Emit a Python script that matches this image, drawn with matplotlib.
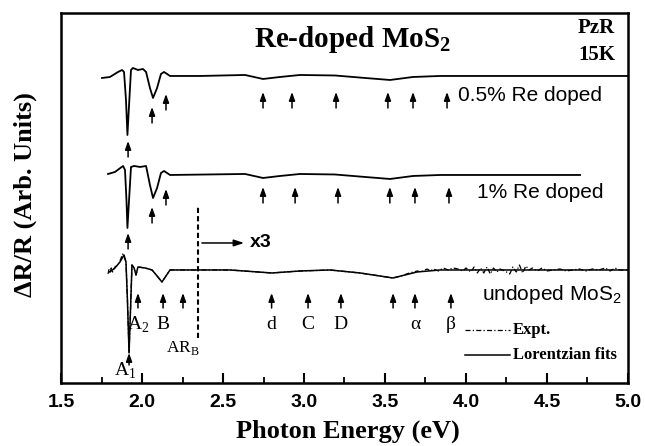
import matplotlib
matplotlib.use('AGG')
import numpy as np
import matplotlib.pyplot as plt

plt.rcParams['mathtext.fontset'] = 'custom'
plt.rcParams['mathtext.rm'] = 'Liberation Serif'
plt.rcParams['mathtext.bf'] = 'Liberation Serif:bold'
plt.rcParams['mathtext.sf'] = 'Liberation Sans'

# spectra: photon energy (eV) and PzR signal (arb. units, baseline 0)
top_E = [1.753, 1.802, 1.852, 1.877, 1.889, 1.901, 1.910, 1.920, 1.932, 1.944, 1.975, 2.006,
         2.025, 2.049, 2.068, 2.093, 2.117, 2.136, 2.173, 2.358, 2.636, 2.747, 2.852, 2.975,
         3.191, 3.377, 3.531, 3.673, 3.840, 5.0]
top_V = [-2, -1, 4, 6, 4, -24, -59, -29, 6, 8, 6, 7,
         4, -12, -22, -12, 2, 4, 0, 0, 1, -3, -1, 1,
         0.5, -2, -4, -1, 0, 0]

mid_E = [1.790, 1.833, 1.883, 1.895, 1.904, 1.910, 1.920, 1.932, 1.951, 1.988, 2.025, 2.049,
         2.068, 2.093, 2.117, 2.136, 2.173, 2.636, 2.747, 2.852, 2.975, 3.191, 3.377, 3.531,
         3.673, 3.840, 4.704]
mid_V = [1, 3, 9, 5, -25, -53, -25, 8, 9, 8, 9, -10,
         -23, -13, 2, 4, 0, 1, -3, -1, 1, 0.5, -2, -4,
         -1, 0, 0]

fit_E = [1.802, 1.833, 1.864, 1.889, 1.901, 1.910, 1.920, 1.929, 1.938, 1.951, 1.963, 1.975,
         2.019, 2.062, 2.093, 2.123, 2.148, 2.173, 2.543, 2.802, 2.975, 3.160, 3.346, 3.549,
         3.698, 3.840, 5.0]
fit_V = [-2, 2, 8, 15, 8, -30, -83, -40, 5, 2, -5, 3,
         2, 0, -6, -12, -6, 0, 0, -3, -1, 0, -3, -8,
         -2, 0, 0]

expt_E = [1.790, 1.797, 1.803, 1.810, 1.818, 1.833, 1.850, 1.864, 1.880, 1.889, 1.901, 1.910,
          1.920, 1.929, 1.938, 1.951, 1.963, 1.975, 2.019, 2.062, 2.093, 2.123, 2.148, 2.173,
          2.543, 2.802, 2.975, 3.160, 3.346, 3.549, 3.60, 3.65, 3.70, 3.72, 3.76, 3.78, 3.80,
          3.83, 3.86, 3.89, 3.92, 3.95, 3.98, 4.00, 4.03, 4.05, 4.07, 4.09, 4.11, 4.13, 4.15,
          4.17, 4.19, 4.21, 4.24, 4.27, 4.29, 4.31, 4.33, 4.35, 4.37, 4.39, 4.41, 4.44, 4.47,
          4.50, 4.54, 4.58, 4.62, 4.66, 4.70, 4.74, 4.78, 4.82, 4.86, 4.89, 4.92, 4.95, 5.0]
expt_V = [-4, 1, -3, 2, -2, 3, 5, 9, 16, 13, 8, -30,
          -83, -40, 5, 2, -5, 3, 2, 0, -6, -12, -6, 0,
          0, -3, -1, 0, -3, -8, -6, -3, -1, -2, 1, -1, 1,
          -1, 2, 0, 2, 1, -1, 2, -2, 3, -3, 2, -3, 3, -4,
          2, -2, 1, -1, -4, 3, -2, 5, -3, 4, 0, 2, -1, 2,
          -1, 0, 1, -1, 0, 1, -1, 1, 0, 2, -1, 2, 0, 0]

offsets = {'top': 307, 'mid': 208, 'bot': 113}

# arrow (peak) energies
top_arrows = [1.914, 2.062, 2.148, 2.747, 2.926, 3.198, 3.518, 3.673, 3.883]
mid_arrows = [1.914, 2.062, 2.148, 2.747, 2.945, 3.210, 3.530, 3.685, 3.895]
bot_arrows = [1.975, 2.130, 2.253, 2.800, 3.025, 3.228, 3.550, 3.685, 3.907]
bot_labels = [r'A$_\mathrm{2}$', 'B', '', 'd', 'C', 'D', '', 'α', 'β']
A1_bot = 1.920
x3_edge = 2.346

fig = plt.figure(figsize=(6.45, 4.46), dpi=100)
ax = fig.add_axes([0.0946, 0.1413, 0.879, 0.8296])
ax.set_xlim(1.5, 5.0)
ax.set_ylim(0, 370)

dashdot = (0, (4, 1.8, 1, 1.8))
ax.plot(top_E, np.array(top_V) + offsets['top'], color='k', lw=1.3)
ax.plot(mid_E, np.array(mid_V) + offsets['mid'], color='k', lw=1.3)
ax.plot(fit_E, np.array(fit_V) + offsets['bot'], color='k', lw=1.1)
ax.plot(expt_E, np.array(expt_V) + offsets['bot'], color='k', lw=0.9, linestyle=dashdot)


def arrow(x, tip, tail):
    ax.annotate('', xy=(x, tip), xytext=(x, tail),
                arrowprops=dict(arrowstyle='-|>,head_length=0.5,head_width=0.18', color='k',
                                lw=1.1, shrinkA=0, shrinkB=0, mutation_scale=10))


top_tips = [242, 276, 289] + [291] * 6
for e, t in zip(top_arrows, top_tips):
    arrow(e, t, t - 16)
mid_tips = [150, 176, 194] + [196] * 6
for e, t in zip(mid_arrows, mid_tips):
    arrow(e, t, t - 16)
for e in bot_arrows:
    arrow(e, 90, 75)
arrow(A1_bot, 30, 18)

serif = 'Liberation Serif'
sans = 'Liberation Sans'
for e, lab in zip(bot_arrows, bot_labels):
    if lab:
        ax.text(e, 58, lab, ha='center', va='center', family=serif, fontsize=14)
ax.text(bot_arrows[2], 35, r'AR$_\mathrm{B}$', ha='center', va='center', family=serif, fontsize=12.5)
ax.text(1.895, 12, r'A$_\mathrm{1}$', ha='center', va='center', family=serif, fontsize=14)

# x3 marker
ax.plot([x3_edge, x3_edge], [45, 176], color='k', lw=1.5, linestyle=(0, (2.5, 1.5)))
ax.annotate('', xy=(2.63, 140), xytext=(2.37, 140),
            arrowprops=dict(arrowstyle='-|>,head_length=0.6,head_width=0.2', color='k',
                            lw=1.1, shrinkA=0, shrinkB=0, mutation_scale=10))
ax.text(2.665, 140, 'x3', ha='left', va='center', family=sans, fontweight='bold', fontsize=14)

# curve labels
ax.text(3.95, 287, '0.5% Re doped', ha='left', va='center', family=sans, fontsize=15)
ax.text(4.07, 190, '1% Re doped', ha='left', va='center', family=sans, fontsize=15)
ax.text(4.10, 88, r'undoped MoS$_\mathsf{2}$', ha='left', va='center', family=sans, fontsize=15)

# titles
ax.text(3.30, 343, r'Re-doped MoS$_\mathbf{2}$', ha='center', va='center', family=serif,
        fontweight='bold', fontsize=21)
ax.text(4.92, 355, 'PzR', ha='right', va='center', family=serif, fontweight='bold', fontsize=15)
ax.text(4.92, 328, '15K', ha='right', va='center', family=serif, fontweight='bold', fontsize=15)

# legend
ax.plot([3.994, 4.272], [53, 53], color='k', lw=0.9, linestyle=dashdot)
ax.plot([3.994, 4.272], [28, 28], color='k', lw=1.1)
ax.text(4.29, 53, 'Expt.', ha='left', va='center', family=serif, fontweight='bold', fontsize=12)
ax.text(4.29, 28, 'Lorentzian fits', ha='left', va='center', family=serif, fontweight='bold',
        fontsize=12)

# axes
for s in ax.spines.values():
    s.set_linewidth(1.8)
ax.set_xticks(np.arange(1.5, 5.01, 0.5))
ax.set_xticks(np.arange(1.75, 5.0, 0.5), minor=True)
ax.set_xticklabels(['%.1f' % v for v in np.arange(1.5, 5.01, 0.5)])
ax.tick_params(axis='x', which='major', direction='in', length=7, width=1.5, pad=8)
ax.tick_params(axis='x', which='minor', direction='in', length=4, width=1.3)
ax.set_yticks([])
for lab in ax.get_xticklabels():
    lab.set_family(sans)
    lab.set_fontweight('bold')
    lab.set_fontsize(14)

ax.text(0.506, -0.13, 'Photon Energy (eV)', transform=ax.transAxes, ha='center', va='center',
        family=serif, fontweight='bold', fontsize=19)
ax.text(-0.063, 0.51, 'ΔR/R (Arb. Units)', transform=ax.transAxes, ha='center', va='center',
        rotation=90, family=serif, fontweight='bold', fontsize=19)

plt.savefig('out.png', dpi=100)
